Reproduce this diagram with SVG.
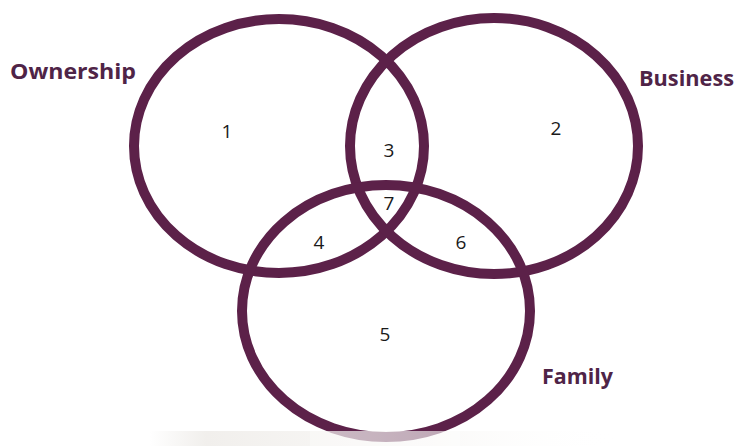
<svg xmlns="http://www.w3.org/2000/svg" width="736" height="446" viewBox="0 0 736 446">
  <defs>
    <style>
      .ring { fill: none; stroke: #5c2149; stroke-width: 10; }
      .label { font-family: "Open Sans", "Liberation Sans", sans-serif; font-weight: bold; font-size: 22px; fill: #4f2447; }
      .num { font-family: "Open Sans", "Liberation Sans", sans-serif; font-size: 19px; fill: #1a1a1a; text-anchor: middle; }
    </style>
    <linearGradient id="fade" x1="0" y1="0" x2="1" y2="0">
      <stop offset="0" stop-color="#e8e6e2" stop-opacity="0"/>
      <stop offset="0.12" stop-color="#ebe8e4" stop-opacity="0.7"/>
      <stop offset="0.6" stop-color="#f3f1ee" stop-opacity="0.45"/>
      <stop offset="1" stop-color="#ffffff" stop-opacity="0"/>
    </linearGradient>
  </defs>
  <rect x="0" y="0" width="736" height="446" fill="#ffffff"/>

  <g id="ownership">
    <ellipse class="ring" cx="279" cy="146" rx="145" ry="127"/>
    <text class="label" x="10" y="79" textLength="126" lengthAdjust="spacingAndGlyphs">Ownership</text>
  </g>
  <g id="business">
    <ellipse class="ring" cx="494" cy="146" rx="144" ry="128"/>
    <text class="label" x="639" y="86" textLength="95" lengthAdjust="spacingAndGlyphs">Business</text>
  </g>
  <g id="family">
    <ellipse class="ring" cx="386" cy="311" rx="144" ry="126"/>
    <text class="label" x="542" y="384" textLength="71" lengthAdjust="spacingAndGlyphs">Family</text>
  </g>

  <g id="regions">
    <text class="num" x="227" y="138">1</text>
    <text class="num" x="556" y="135">2</text>
    <text class="num" x="389" y="157">3</text>
    <text class="num" x="319" y="249">4</text>
    <text class="num" x="385" y="341">5</text>
    <text class="num" x="461" y="249">6</text>
    <text class="num" x="389" y="210">7</text>
  </g>

  <rect x="150" y="431" width="470" height="15" fill="url(#fade)"/>
  <rect x="310" y="431" width="150" height="15" fill="#ffffff" fill-opacity="0.35"/>
</svg>
